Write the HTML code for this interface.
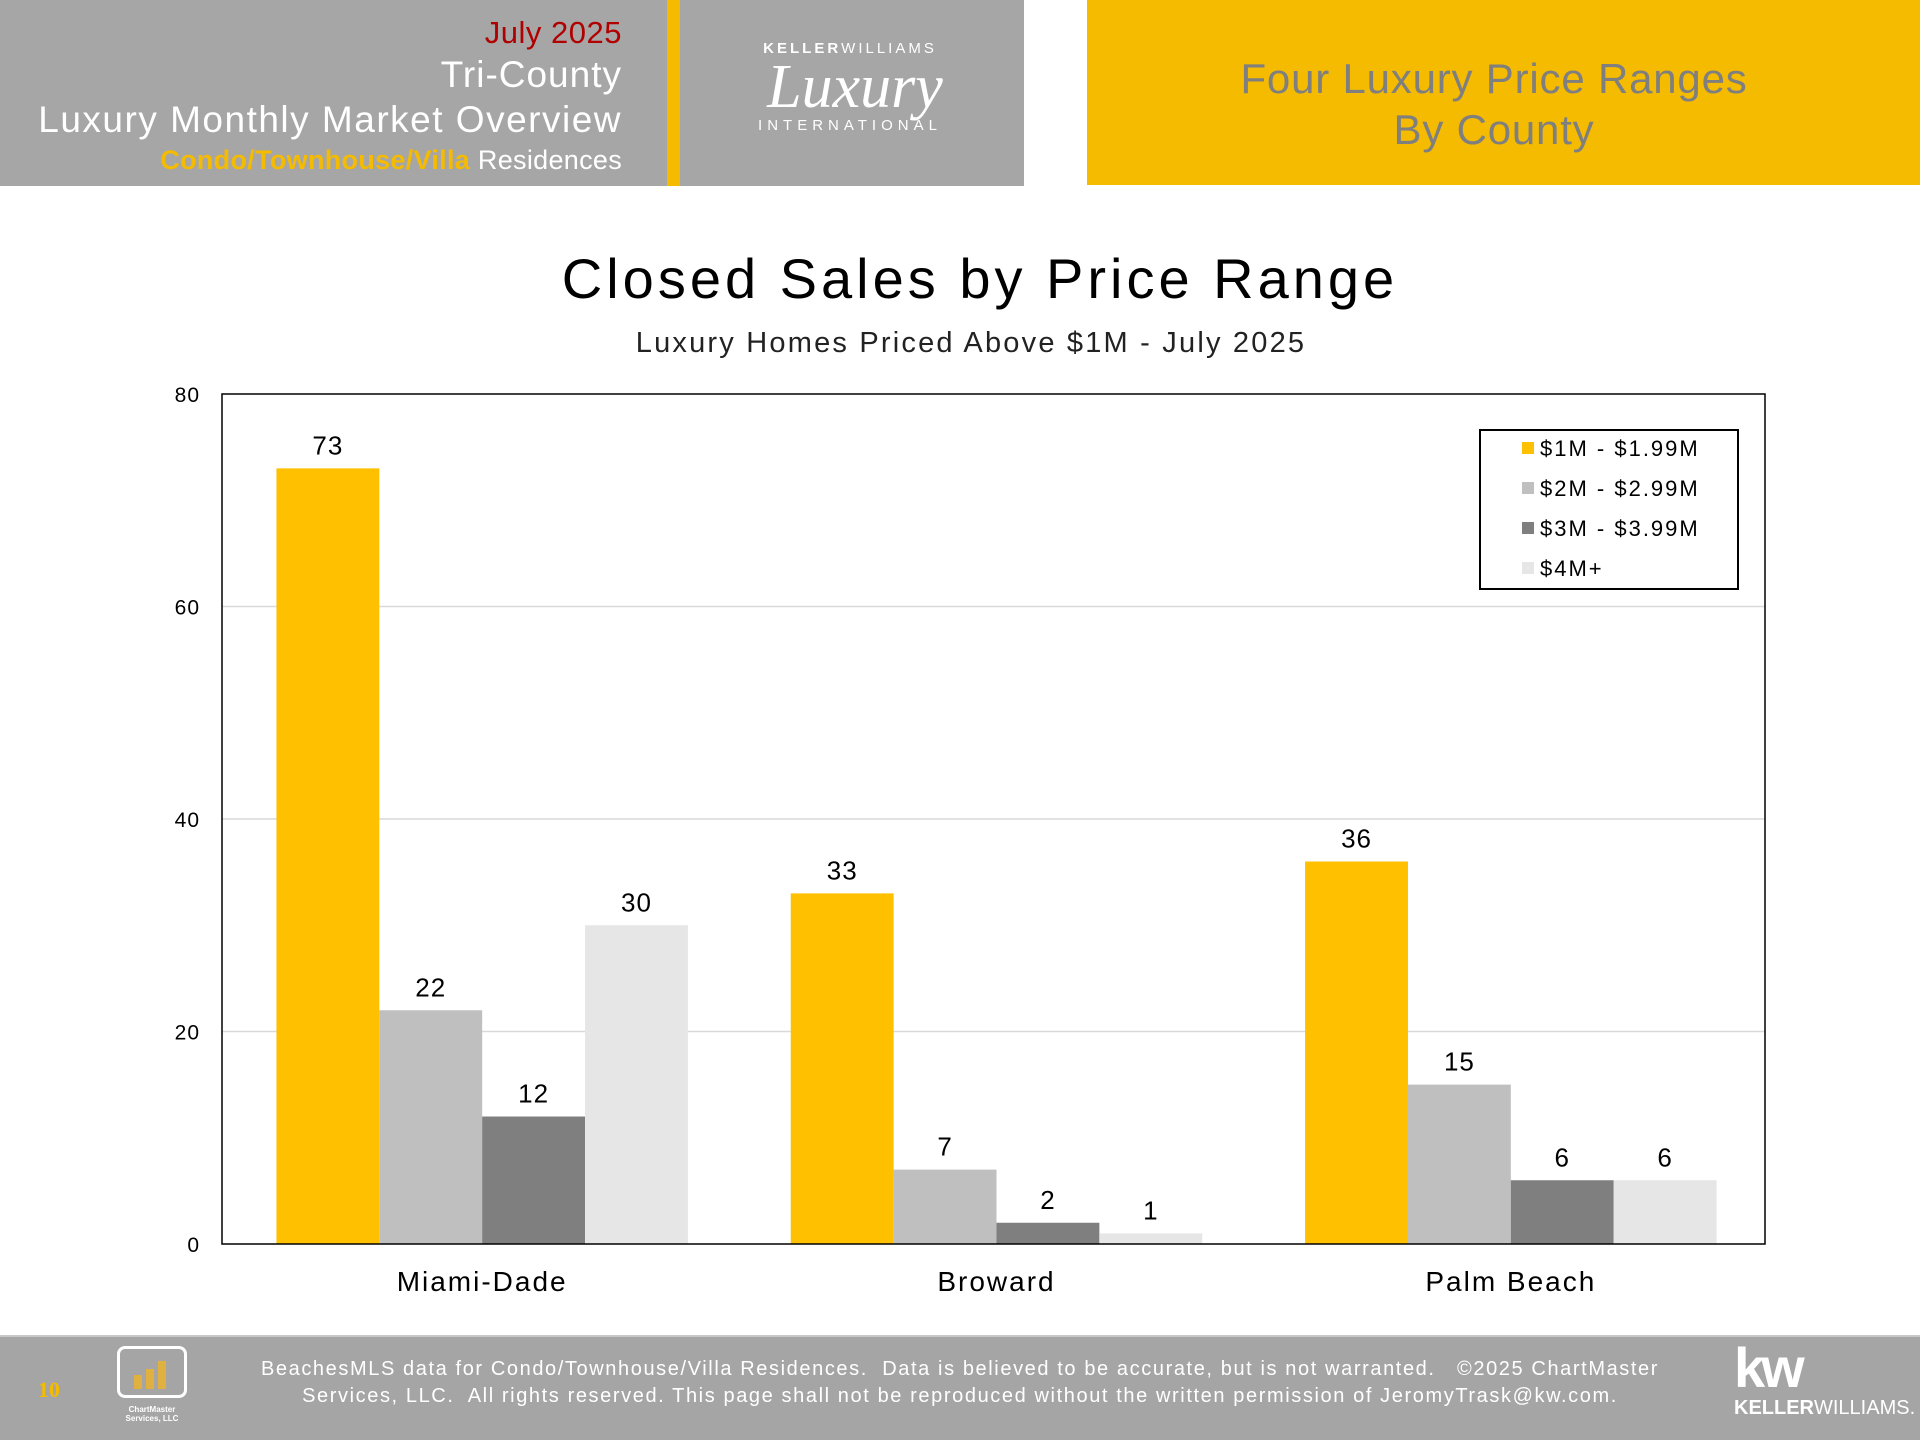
<!DOCTYPE html>
<html><head><meta charset="utf-8">
<style>
html,body{margin:0;padding:0;width:1920px;height:1440px;overflow:hidden;background:#fff;font-family:"Liberation Sans","DejaVu Sans",sans-serif;}
.abs{position:absolute;}
</style></head>
<body>
<div class="abs" style="left:0;top:0;width:1024px;height:186px;background:#a6a6a6;"></div>
<div class="abs" style="left:667px;top:0;width:13px;height:186px;background:#f5bb00;"></div>
<div class="abs" style="right:1298px;top:17px;text-align:right;color:#fff;line-height:1;white-space:nowrap;">
  <div style="color:#b00000;font-size:31px;letter-spacing:0.5px;">July 2025</div>
  <div style="font-size:37px;margin-top:8px;letter-spacing:1px;">Tri-County</div>
  <div style="font-size:37px;margin-top:8px;letter-spacing:1.5px;">Luxury Monthly Market Overview</div>
  <div style="font-size:27px;margin-top:9px;letter-spacing:0.3px;"><b style="color:#f5bb00">Condo/Townhouse/Villa</b> Residences</div>
</div>
<div class="abs" style="left:700px;top:40px;width:320px;color:#fff;text-align:center;">
  <div style="font-size:15px;letter-spacing:3px;margin-left:-20px;"><b>KELLER</b>WILLIAMS</div>
  <div style="font-family:'Liberation Serif',serif;font-style:italic;font-size:62px;line-height:60px;margin-left:-10px;">Luxury</div>
  <div style="font-size:15px;letter-spacing:5px;margin-left:-20px;">INTERNATIONAL</div>
</div>
<div class="abs" style="left:1087px;top:0;width:833px;height:185px;background:#f5bb00;"></div>
<div class="abs" style="left:1087px;top:53px;width:814px;text-align:center;color:#7f7f7f;font-size:42px;line-height:51px;letter-spacing:0.8px;">Four Luxury Price Ranges<br>By County</div>

<svg class="abs" style="left:0;top:0" width="1920" height="1440" id="chart">
  <text x="980" y="298" text-anchor="middle" font-size="56" letter-spacing="4" fill="#000">Closed Sales by Price Range</text>
  <text x="971" y="352" text-anchor="middle" font-size="29" letter-spacing="2.2" fill="#222">Luxury Homes Priced Above $1M - July 2025</text>
  <g id="grid"></g><g id="bars"></g>
  <rect x="222" y="394" width="1543" height="850" fill="none" stroke="#000" stroke-width="1.5"/>
  <g id="legend"></g>
</svg>

<div class="abs" style="left:0;top:1335px;width:1920px;height:105px;background:#a5a5a5;border-top:2px solid #c8c8c8;box-sizing:border-box;"></div>
<div class="abs" style="left:38px;top:1377px;color:#f5bb00;font-family:'Liberation Serif',serif;font-weight:bold;font-size:22px;">10</div>
<div class="abs" style="left:117px;top:1346px;width:70px;height:52px;border:3px solid #fff;border-radius:8px;box-sizing:border-box;">
  <div style="position:absolute;left:14px;bottom:6px;width:8px;height:14px;background:#e0b040"></div>
  <div style="position:absolute;left:26px;bottom:6px;width:8px;height:20px;background:#e0b040"></div>
  <div style="position:absolute;left:38px;bottom:6px;width:8px;height:28px;background:#e0b040"></div>
</div>
<div class="abs" style="left:110px;top:1405px;width:84px;text-align:center;color:#fff;font-size:8px;font-weight:bold;line-height:9px;">ChartMaster<br>Services, LLC</div>
<div class="abs" style="left:200px;top:1356px;width:1520px;text-align:center;color:#fff;font-size:20px;line-height:27px;letter-spacing:1.6px;white-space:nowrap;">BeachesMLS data for Condo/Townhouse/Villa Residences.&nbsp; Data is believed to be accurate, but is not warranted.&nbsp;&nbsp; ©2025 ChartMaster<br>Services, LLC.&nbsp; All rights reserved. This page shall not be reproduced without the written permission of JeromyTrask@kw.com.</div>
<div class="abs" style="left:1734px;top:1340px;color:#fff;">
  <div style="font-size:56px;font-weight:bold;letter-spacing:-4px;line-height:56px;">kw</div>
  <div style="font-size:20px;line-height:24px;"><b>KELLER</b>WILLIAMS.</div>
</div>

<script>
const categories = ["Miami-Dade", "Broward", "Palm Beach"];
const seriesNames = ["$1M - $1.99M", "$2M - $2.99M", "$3M - $3.99M", "$4M+"];
const s1 = [73, 33, 36];
const s2 = [22, 7, 15];
const s3 = [12, 2, 6];
const s4 = [30, 1, 6];
const yTicks = [0, 20, 40, 60, 80];
const series = [s1, s2, s3, s4];
const colors = ["#FFC000", "#BFBFBF", "#7F7F7F", "#E7E6E6"];
const NS = "http://www.w3.org/2000/svg";
const px0 = 222, px1 = 1765, py0 = 1244, py1 = 394, yMax = 80;
const y = v => py0 - (v / yMax) * (py0 - py1);
const groupW = (px1 - px0) / categories.length;
const barW = groupW * 0.2;
function mk(tag, attrs, parent, text) {
  const e = document.createElementNS(NS, tag);
  for (const k in attrs) e.setAttribute(k, attrs[k]);
  if (text !== undefined) e.textContent = text;
  parent.appendChild(e); return e;
}
const grid = document.getElementById("grid");
yTicks.forEach(t => {
  if (t > 0 && t < yMax) {
    const l = mk("line", {x1: px0, x2: px1, y1: y(t), y2: y(t), stroke: "#d9d9d9", "stroke-width": 1.5}, grid);
    
    
  }
  const tk = mk("text", {x: 200, y: y(t) + 8, "text-anchor": "end", "font-size": 21, "letter-spacing": 1, fill: "#000"}, grid, String(t));
  
  
});
const bars = document.getElementById("bars");
categories.forEach((c, i) => {
  const gx = px0 + i * groupW + 3;
  const cl = mk("text", {x: gx + groupW / 2, y: 1291, "text-anchor": "middle", "font-size": 28, "letter-spacing": 2, fill: "#000"}, bars, c);
  
  
  series.forEach((s, j) => {
    const bx = gx + groupW * 0.1 + j * barW;
    const r = mk("rect", {x: bx, y: y(s[i]), width: barW, height: py0 - y(s[i]), fill: colors[j]}, bars);
    
    
    const vl = mk("text", {x: bx + barW / 2, y: y(s[i]) - 14, "text-anchor": "middle", "font-size": 26, "letter-spacing": 1, fill: "#000"}, bars, String(s[i]));
    
    
  });
});
const lg = document.getElementById("legend");
const box = mk("rect", {x: 1480, y: 430, width: 258, height: 159, fill: "#fff", stroke: "#000", "stroke-width": 2}, lg);


seriesNames.forEach((n, j) => {
  const ly = 448 + j * 40;
  const sw = mk("rect", {x: 1522, y: ly - 6, width: 12, height: 12, fill: colors[j]}, lg);
  
  
  const t = mk("text", {x: 1540, y: ly + 8, "font-size": 22, "letter-spacing": 2, fill: "#000"}, lg, n);
  
  
});
</script>
</body></html>
